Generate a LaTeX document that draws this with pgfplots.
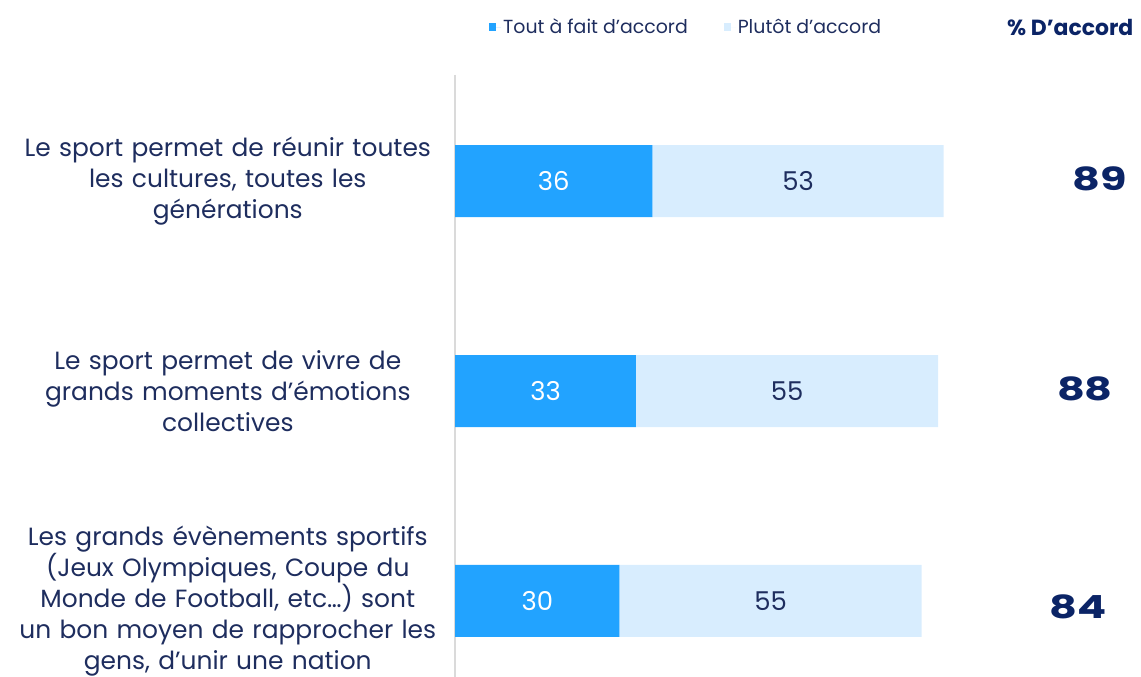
\documentclass[border=0pt]{standalone}
\usepackage{pgfplots}
\pgfplotsset{compat=1.18}
\usepackage{fontspec}
\setmainfont{Poppins}
\definecolor{dark}{HTML}{22A3FF}
\definecolor{light}{HTML}{D8EDFE}
\definecolor{navy}{HTML}{1E2D5E}
\definecolor{deepnavy}{HTML}{0B2466}
\definecolor{axisgray}{HTML}{DADADA}
\tikzset{vlab/.style={font=\fontsize{26}{30}\selectfont},
         tot/.style={font=\fontsize{32}{36}\selectfont\bfseries, text=deepnavy}}
\begin{document}
\begin{tikzpicture}
\path[use as bounding box] (0bp,0bp) rectangle (1141bp,677bp);
\begin{axis}[
  at={(455bp,0bp)}, anchor=south west,
  scale only axis, width=549bp, height=602bp,
  xmin=0, xmax=100, ymin=-0.505, ymax=2.362,
  y dir=reverse,
  xbar stacked, bar width=72bp,
  reverse stacked plots=false,
  clip=false,
  axis x line=none,
  axis y line*=left,
  y axis line style={draw=axisgray, line width=2bp},
  ytick={0,1,2},
  major tick length=0pt,
  yticklabels={{Le sport permet de réunir toutes\\les cultures, toutes les\\générations},
               {Le sport permet de vivre de\\grands moments d'émotions\\collectives},
               {Les grands évènements sportifs\\(Jeux Olympiques, Coupe du\\Monde de Football, etc…) sont\\un bon moyen de rapprocher les\\gens, d'unir une nation}},
  yticklabel style={text width=440bp, align=center, inner sep=0pt, xshift=-7bp,
     font=\fontsize{25}{31}\selectfont, text=navy},
  legend columns=2,
  legend style={at={(0.062,1.0797)}, anchor=west, draw=none, fill=none,
     font=\fontsize{19}{22}\selectfont, text=navy, inner sep=0pt,
     /tikz/every even column/.style={column sep=34bp}},
  legend image code/.code={\draw[#1,draw=none] (0bp,-4bp) rectangle (7bp,4bp);
     \path (0bp,0bp) -- (12bp,0bp);},
]
\addplot[fill=dark, draw=none] coordinates {(36,0) (33,1) (30,2)};
\addlegendentry{Tout à fait d'accord}
\addplot[fill=light, draw=none] coordinates {(53,0) (55,1) (55,2)};
\addlegendentry{Plutôt d'accord}
\node[vlab, text=white] at (axis cs:18,0) {36};
\node[vlab, text=navy] at (axis cs:62.5,0) {53};
\node[vlab, text=white] at (axis cs:16.5,1) {33};
\node[vlab, text=navy] at (axis cs:60.5,1) {55};
\node[vlab, text=white] at (axis cs:15,2) {30};
\node[vlab, text=navy] at (axis cs:57.5,2) {55};
\node[tot] at (axis cs:117.5,-0.01) {\scalebox{1.35}[1]{89}};
\node[tot] at (axis cs:114.75,0.99) {\scalebox{1.35}[1]{88}};
\node[tot] at (axis cs:113.5,2.03) {\scalebox{1.35}[1]{84}};
\node[font=\fontsize{22}{24}\selectfont\bfseries, text=deepnavy, anchor=east, inner sep=0pt]
  at (axis description cs:1.236,1.0797) {\% D'accord};
\end{axis}
\end{tikzpicture}
\end{document}
